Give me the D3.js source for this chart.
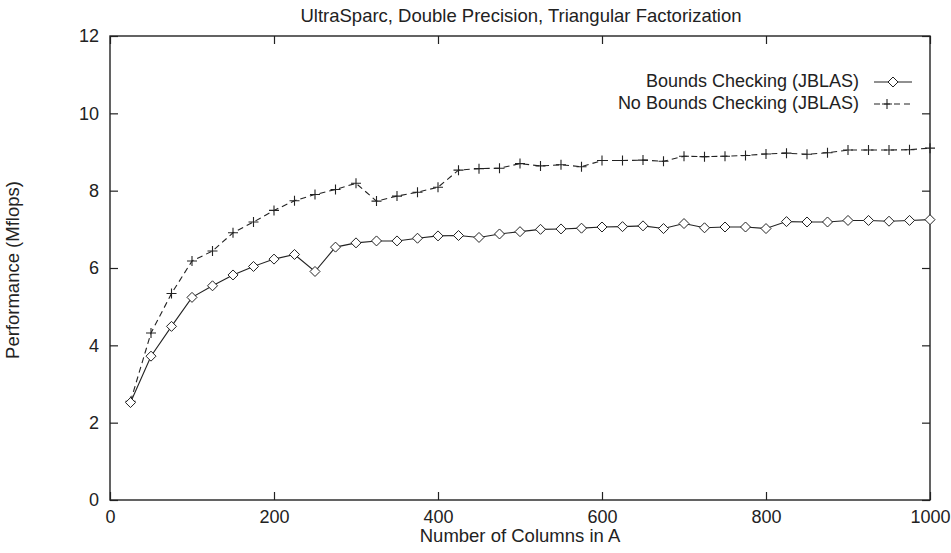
<!DOCTYPE html>
<html>
<head>
<meta charset="utf-8">
<script src="https://cdn.jsdelivr.net/npm/d3@7"></script>
<style>
  body { margin: 0; background: #fff; }
  text { font-family: "Liberation Sans", Arial, sans-serif; fill: #222; }
</style>
</head>
<body>
<script>
const columns = [25, 50, 75, 100, 125, 150, 175, 200, 225, 250, 275, 300, 325, 350, 375, 400,
    425, 450, 475, 500, 525, 550, 575, 600, 625, 650, 675, 700, 725, 750, 775, 800,
    825, 850, 875, 900, 925, 950, 975, 1000]

const boundsChecking = [2.52, 3.72, 4.49, 5.24, 5.54, 5.82, 6.04, 6.23, 6.35, 5.91, 6.54, 6.65, 6.70, 6.70, 6.77, 6.83,
    6.84, 6.79, 6.88, 6.94, 7.00, 7.01, 7.03, 7.06, 7.07, 7.09, 7.02, 7.15, 7.04, 7.06, 7.06, 7.02,
    7.20, 7.19, 7.19, 7.23, 7.23, 7.21, 7.23, 7.25]

const noBoundsChecking = [2.55, 4.32, 5.34, 6.18, 6.44, 6.91, 7.19, 7.49, 7.74, 7.90, 8.03, 8.19, 7.73, 7.86, 7.96, 8.09,
    8.53, 8.57, 8.58, 8.70, 8.64, 8.67, 8.62, 8.78, 8.78, 8.79, 8.76, 8.89, 8.88, 8.89, 8.91, 8.95,
    8.97, 8.94, 8.98, 9.05, 9.05, 9.05, 9.06, 9.10]

const xTicks = [0, 200, 400, 600, 800, 1000]
const yTicks = [0, 2, 4, 6, 8, 10, 12]

const width = 951
const height = 553
const plotLeft = 110, plotRight = 930, plotTop = 36, plotBottom = 500
const ink = "#222"
const fontSize = "18px"

const svg = d3.select("body")
    .append("svg")
    .attr("width", width)
    .attr("height", height)

const x = d3.scaleLinear().domain([0, 1000]).range([plotLeft, plotRight])
const y = d3.scaleLinear().domain([0, 12]).range([plotBottom, plotTop])

// ticks point inward and are mirrored on top/right
const tickLen = 8
svg.append("g").attr("transform", `translate(0,${plotBottom})`)
    .call(d3.axisBottom(x).tickValues(xTicks).tickFormat(d3.format("d"))
        .tickSizeInner(-tickLen).tickSizeOuter(0).tickPadding(10))
svg.append("g").attr("transform", `translate(0,${plotTop})`)
    .call(d3.axisTop(x).tickValues(xTicks).tickSizeInner(-tickLen).tickSizeOuter(0).tickFormat(""))
svg.append("g").attr("transform", `translate(${plotLeft},0)`)
    .call(d3.axisLeft(y).tickValues(yTicks).tickSizeInner(-tickLen).tickSizeOuter(0).tickPadding(11))
svg.append("g").attr("transform", `translate(${plotRight},0)`)
    .call(d3.axisRight(y).tickValues(yTicks).tickSizeInner(-tickLen).tickSizeOuter(0).tickFormat(""))

svg.selectAll(".domain").remove()
svg.selectAll(".tick line").attr("stroke", ink).attr("stroke-width", 1.2)
svg.selectAll(".tick text").style("font-size", fontSize).style("font-family", "'Liberation Sans', Arial, sans-serif").attr("fill", ink)

svg.append("rect")
    .attr("x", plotLeft).attr("y", plotTop)
    .attr("width", plotRight - plotLeft).attr("height", plotBottom - plotTop)
    .attr("fill", "none").attr("stroke", ink).attr("stroke-width", 1.4)

const line = d3.line().x((d, i) => x(columns[i])).y(d => y(d))

svg.append("path").datum(noBoundsChecking)
    .attr("d", line)
    .attr("fill", "none").attr("stroke", ink).attr("stroke-width", 1.1)
    .attr("stroke-dasharray", "6,4")

svg.append("path").datum(boundsChecking)
    .attr("d", line)
    .attr("fill", "none").attr("stroke", ink).attr("stroke-width", 1.1)

const diamond = (cx, cy) => `M${cx},${cy - 5}L${cx + 5},${cy}L${cx},${cy + 5}L${cx - 5},${cy}Z`
const plus = (cx, cy) => `M${cx - 5},${cy}H${cx + 5}M${cx},${cy - 5}V${cy + 5}`

svg.selectAll(".plusPt")
    .data(noBoundsChecking)
    .enter()
    .append("path")
    .attr("d", (d, i) => plus(x(columns[i]), y(d)))
    .attr("stroke", ink).attr("stroke-width", 1.1)

svg.selectAll(".diamondPt")
    .data(boundsChecking)
    .enter()
    .append("path")
    .attr("d", (d, i) => diamond(x(columns[i]), y(d)))
    .attr("fill", "#fff").attr("stroke", ink).attr("stroke-width", 1)

// legend
svg.append("text").attr("x", 859).attr("y", 82).attr("text-anchor", "end")
    .attr("dominant-baseline", "middle").style("font-size", fontSize).text("Bounds Checking (JBLAS)")
svg.append("line").attr("x1", 874).attr("x2", 912).attr("y1", 82).attr("y2", 82)
    .attr("stroke", ink).attr("stroke-width", 1.1)
svg.append("path").attr("d", diamond(893, 82)).attr("fill", "#fff").attr("stroke", ink)

svg.append("text").attr("x", 859).attr("y", 104).attr("text-anchor", "end")
    .attr("dominant-baseline", "middle").style("font-size", fontSize).text("No Bounds Checking (JBLAS)")
svg.append("line").attr("x1", 874).attr("x2", 912).attr("y1", 104).attr("y2", 104)
    .attr("stroke", ink).attr("stroke-width", 1.1).attr("stroke-dasharray", "6,4")
svg.append("path").attr("d", plus(887, 104)).attr("stroke", ink).attr("stroke-width", 1.1)

// titles
svg.append("text").attr("x", 521).attr("y", 22).attr("text-anchor", "middle")
    .style("font-size", "18.5px").text("UltraSparc, Double Precision, Triangular Factorization")
svg.append("text").attr("x", 520).attr("y", 542).attr("text-anchor", "middle")
    .style("font-size", "18.5px").text("Number of Columns in A")
svg.append("text").attr("transform", "translate(19,270) rotate(-90)").attr("text-anchor", "middle")
    .style("font-size", "18.5px").text("Performance (Mflops)")
</script>
</body>
</html>
